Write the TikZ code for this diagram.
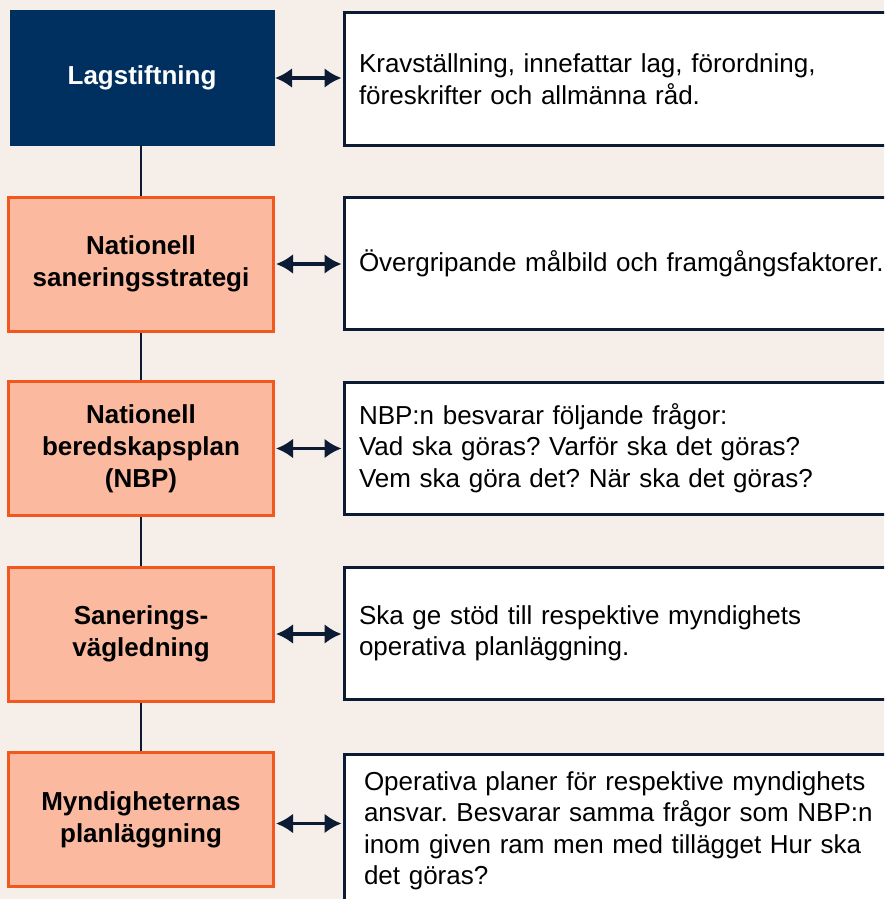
\documentclass[tikz,border=0pt]{standalone}
\usepackage{fontspec}
\setmainfont{Liberation Sans}
\usetikzlibrary{arrows.meta}

\definecolor{bgcol}{HTML}{F6EEE8}
\definecolor{navy}{HTML}{003060}
\definecolor{ink}{HTML}{0B1B33}
\definecolor{salmon}{HTML}{FBBAA0}
\definecolor{flame}{HTML}{F2581E}

\tikzstyle{level} = [rectangle, draw=flame, fill=salmon, line width=3pt, minimum width=265pt, minimum height=134pt, align=center, font=\fontsize{26}{32}\selectfont\bfseries]
\tikzstyle{top} = [level, draw=navy, fill=navy, text=white, line width=0pt, minimum width=264pt]
\tikzstyle{note} = [rectangle, draw=ink, fill=white, line width=3pt, minimum height=132pt, inner xsep=15pt, text width=530pt, align=left, font=\fontsize{26}{31.5}\selectfont\frenchspacing]
\tikzstyle{link} = [ink, line width=3.5pt, {Latex[length=17pt,width=20pt]}-{Latex[length=17pt,width=20pt]}, shorten <=1pt, shorten >=1pt]
\tikzstyle{chain} = [ink, line width=2.5pt]

\begin{document}
\begin{tikzpicture}[x=1pt,y=1pt]
\def\lx{141}
\def\rx{624}

%   page and background
	\useasboundingbox (0,0) rectangle (884,-899);
	\clip (0,0) rectangle (884,-899);
	\fill[bgcol] (0,0) rectangle (884,-899);

%   left column
	\node[top]   (lag)    at (\lx+1,-78)    {Lagstiftning};
	\node[level] (strat)  at (\lx,-264)     {Nationell\\saneringsstrategi};
	\node[level] (nbp)    at (\lx,-448.5)   {Nationell\\beredskapsplan\\(NBP)};
	\node[level] (vagl)   at (\lx,-634)     {Sanerings-\\vägledning};
	\node[level] (mynd)   at (\lx,-819.5)   {Myndigheternas\\planläggning};

%   right column
	\node[note] (lagtxt)   at (\rx,-79)    {Kravställning, innefattar lag, förordning,\\föreskrifter och allmänna råd.};
	\node[note] (strattxt) at (\rx,-263)   {Övergripande målbild och framgångsfaktorer.};
	\node[note] (nbptxt)   at (\rx,-448)   {NBP:n besvarar följande frågor:\\Vad ska göras? Varför ska det göras?\\Vem ska göra det? När ska det göras?};
	\node[note] (vagltxt)  at (\rx,-633.5) {Ska ge stöd till respektive myndighets\\operativa planläggning.};
	\node[note, minimum height=154pt, inner xsep=20pt, text width=520pt] (myndtxt) at (\rx,-831)
		{Operativa planer för respektive myndighets\\ansvar. Besvarar samma frågor som NBP:n\\inom given ram men med tillägget Hur ska\\det göras?};

%   connectors
	\draw[chain] (strat.north |- lag.south) -- (strat.north);
	\draw[chain] (strat.south) -- (nbp.north);
	\draw[chain] (nbp.south) -- (vagl.north);
	\draw[chain] (vagl.south) -- (mynd.north);

	\draw[link] (lag.east)   -- (lag.east -| lagtxt.west);
	\draw[link] (strat.east) -- (strat.east -| strattxt.west);
	\draw[link] (nbp.east)   -- (nbp.east -| nbptxt.west);
	\draw[link] (vagl.east)  -- (vagl.east -| vagltxt.west);
	\draw[link] ([yshift=-4pt]mynd.east) -- ([yshift=-4pt]mynd.east -| myndtxt.west);

\end{tikzpicture}
\end{document}
